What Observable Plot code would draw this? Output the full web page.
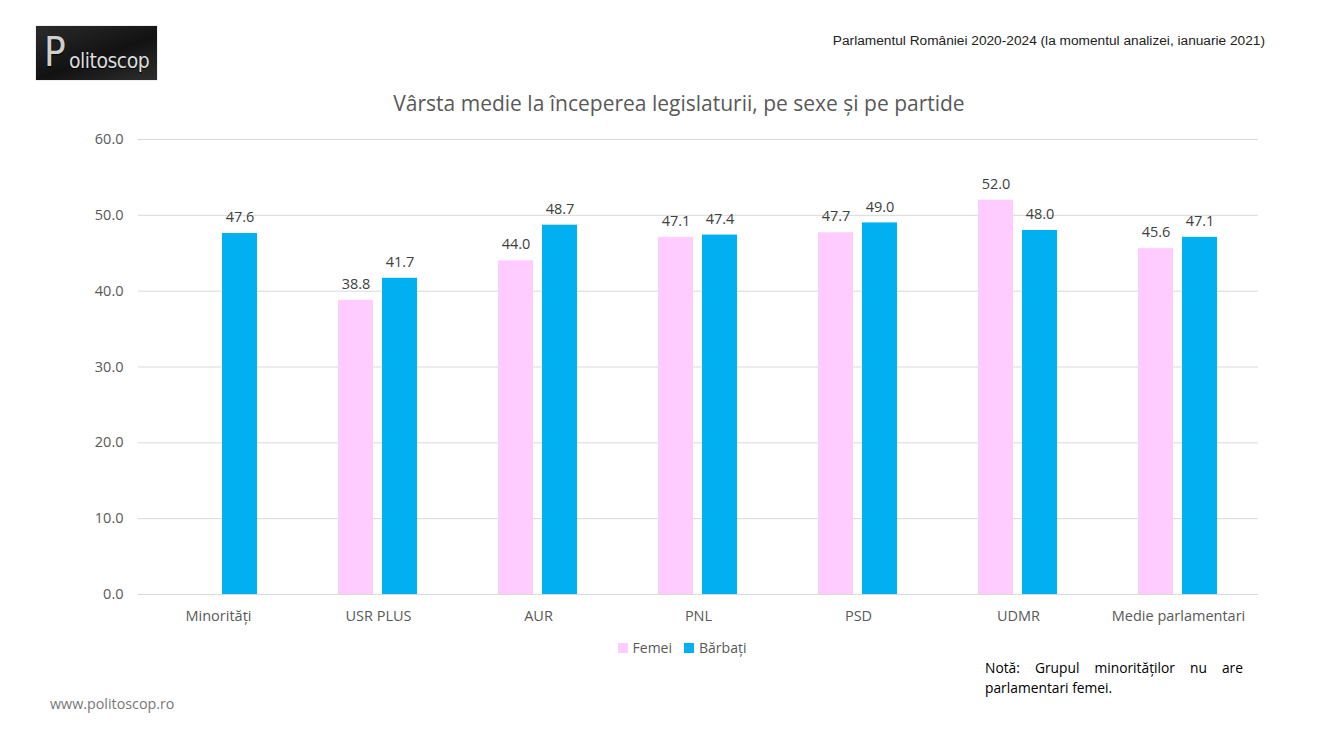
<!DOCTYPE html>
<html>
<head>
<meta charset="utf-8">
<script src="https://cdn.jsdelivr.net/npm/d3@7"></script>
<script src="https://cdn.jsdelivr.net/npm/@observablehq/plot@0.6"></script>
<style>
  html, body { margin: 0; padding: 0; background: #fff; }
  body { width: 1332px; height: 750px; position: relative; overflow: hidden; font-family: "Open Sans", sans-serif; }
  .abs { position: absolute; }
  #logo { left: 36px; top: 26px; width: 121px; height: 54px; background: linear-gradient(160deg, #2b2b2b 0%, #121212 55%, #2e2e2e 100%); box-shadow: 0 0 1px #999; overflow: hidden; }
  #logo .p { position: absolute; left: 8px; top: 2px; font-family: "DejaVu Sans Condensed", "DejaVu Sans", sans-serif; font-size: 40px; line-height: 48px; color: #cfcfcf; text-shadow: 0 1px 1px #000; }
  #logo .r { position: absolute; left: 33px; top: 22px; font-family: "DejaVu Sans Condensed", "DejaVu Sans", sans-serif; font-size: 21px; line-height: 26px; color: #dcdcdc; letter-spacing: -0.5px; text-shadow: 0 1px 1px #000; }
  #top { right: 67px; top: 33px; font-family: "Liberation Sans", Arial, sans-serif; font-size: 13.7px; color: #222; }
  #title { left: 0; width: 1358px; top: 89px; text-align: center; font-size: 21px; color: #595959; }
  #legend { left: 0; width: 1364px; top: 638px; text-align: center; font-size: 14px; color: #595959; }
  #legend .sw { display: inline-block; width: 10px; height: 10px; margin-right: 5px; vertical-align: 0px; }
  #legend .it { margin: 0 6px; }
  #note { left: 985px; top: 658px; width: 258px; font-size: 13.8px; line-height: 20px; color: #000; text-align: justify; }
  #www { left: 50px; top: 694px; font-size: 14.3px; color: #777; }
  #chart { left: 0; top: 120px; }
</style>
</head>
<body>
<div id="logo" class="abs"><span class="p">P</span><span class="r">olitoscop</span></div>
<div id="top" class="abs">Parlamentul României 2020-2024 (la momentul analizei, ianuarie 2021)</div>
<div id="title" class="abs">Vârsta medie la începerea legislaturii, pe sexe și pe partide</div>
<div id="chart" class="abs"></div>
<div id="legend" class="abs"><span class="it"><span class="sw" style="background:#FFCCFF"></span>Femei</span><span class="it"><span class="sw" style="background:#00B0F0"></span>Bărbați</span></div>
<div id="note" class="abs">Notă: Grupul minorităților nu are parlamentari femei.</div>
<div id="www" class="abs">www.politoscop.ro</div>
<script>
const categories = ["Minorități", "USR PLUS", "AUR", "PNL", "PSD", "UDMR", "Medie parlamentari"];
const sexes = ["Femei", "Bărbați"];
const femei = [null, 38.8, 44.0, 47.1, 47.7, 52.0, 45.6];
const barbati = [47.6, 41.7, 48.7, 47.4, 49.0, 48.0, 47.1];
const yTicks = [0, 10, 20, 30, 40, 50, 60];
const colors = ["#FFCCFF", "#00B0F0"];

const data = [];
categories.forEach((c, i) => {
  if (femei[i] != null) data.push({cat: c, sex: "Femei", v: femei[i]});
  if (barbati[i] != null) data.push({cat: c, sex: "Bărbați", v: barbati[i]});
});

const chart = Plot.plot({
  width: 1332,
  height: 520,
  marginLeft: 138,
  marginRight: 74,
  marginTop: 19,
  marginBottom: 46,
  style: {fontFamily: "Open Sans, sans-serif", fontSize: "14.5px", color: "#595959", background: "transparent"},
  fx: {domain: categories, padding: 0, label: null, tickSize: 0, tickPadding: 16},
  x: {domain: sexes, paddingInner: 0.2, paddingOuter: 0.878, axis: null},
  y: {domain: [0, 60], ticks: yTicks, tickFormat: d => d.toFixed(1), label: null, tickSize: 0, tickPadding: 15},
  color: {domain: sexes, range: colors},
  marks: [
    Plot.gridY(yTicks, {stroke: "#d9d9d9", strokeOpacity: 1, strokeWidth: 1}),
    Plot.barY(data, {fx: "cat", x: "sex", y: "v", fill: "sex"}),
    Plot.text(data, {fx: "cat", x: "sex", y: "v", text: d => d.v.toFixed(1), dy: -16, fill: "#404040", fontSize: 14.5})
  ]
});
document.getElementById("chart").appendChild(chart);
</script>
</body>
</html>
